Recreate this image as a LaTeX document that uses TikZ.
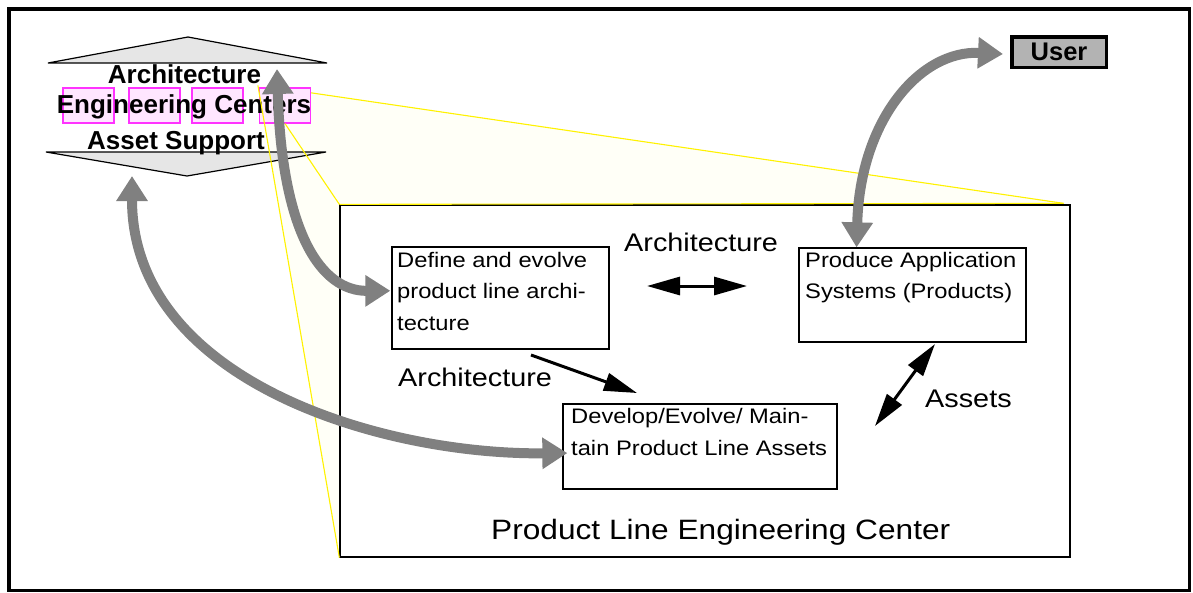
\documentclass[tikz,border=0pt]{standalone}
\usepackage{fontspec}
\setmainfont{Liberation Sans}
\newfontfamily\widefont[FakeStretch=1.13]{Liberation Sans}
\usetikzlibrary{arrows.meta,calc}
\definecolor{grayarrow}{HTML}{808080}
\definecolor{hdrgray}{HTML}{E6E6E6}
\definecolor{pinkfill}{HTML}{FFE6FF}
\definecolor{pinkline}{HTML}{FF33FF}
\definecolor{userfill}{HTML}{B3B3B3}
\definecolor{zoomfill}{HTML}{FFFFF7}
\begin{document}
\begin{tikzpicture}[x=1pt,y=-1pt,
  graybend/.style={draw=grayarrow, line width=10pt,
     {Triangle[length=25pt,width=30pt]}-{Triangle[length=25pt,width=30pt]}},
  blackdbl/.style={draw=black, line width=3pt,
     {Triangle[length=33pt,width=18pt]}-{Triangle[length=33pt,width=18pt]}},
  blacksgl/.style={draw=black, line width=3pt, -{Triangle[length=33pt,width=18pt]}},
  pinkbox/.style={draw=pinkline, fill=pinkfill, line width=1.2pt, inner sep=0pt,
     minimum width=51pt, minimum height=35pt},
  procbox/.style={draw=black, line width=1.3pt, fill=white, inner sep=0pt},
  yline/.style={draw=yellow, line width=1.1pt},
  hdrtext/.style={font=\fontsize{26}{30}\selectfont\bfseries, anchor=base, inner sep=0pt},
  boxtext/.style={font=\widefont\fontsize{21}{31.5}\selectfont, anchor=base west, inner sep=0pt},
  labeltext/.style={font=\widefont\fontsize{25.5}{30}\selectfont, anchor=base west, inner sep=0pt},
  bigtext/.style={font=\widefont\fontsize{28}{33}\selectfont, anchor=base west, inner sep=0pt},
  userbox/.style={draw=black, fill=userfill, line width=3.5pt, inner sep=0pt,
     minimum width=94.5pt, minimum height=30.5pt, font=\fontsize{25.5}{30}\selectfont\bfseries}
]
\useasboundingbox (0,0) rectangle (1193,592);
% outer frame
\draw[line width=3.5pt] (9,9) rectangle (1189.5,590.5);

% pink boxes (nodes)
\node[pinkbox] (p1) at (88.5,105.5) {};
\node[pinkbox] (p2) at (154.5,105.5) {};
\node[pinkbox] (p3) at (217.5,105.5) {};
\node[pinkbox] (p4) at (285,105.5) {};

% big box
\node[procbox, fill=none, minimum width=730pt, minimum height=352pt] (plec) at (705,381) {};

% yellow zoom region
\coordinate (zA) at ($(p4.north west)+(-1,-2)$);
\coordinate (zB) at ($(p4.north east)!0.15!(p4.south east)$);
\coordinate (zF) at (p4.south);
\coordinate (zC) at ($(plec.north east)+(-7,-1)$);
\fill[zoomfill] (zA) -- (zB) -- (zC) -- (plec.north west) -- (plec.south west) -- cycle;

% header triangles
\filldraw[fill=hdrgray, draw=black, line width=1.2pt] (48,63) -- (188,37) -- (327,63) -- cycle;
\filldraw[fill=hdrgray, draw=black, line width=1.2pt] (46,152) -- (326,152) -- (187,176) -- cycle;

% pink boxes redrawn over fill
\node[pinkbox] at (p1) {};
\node[pinkbox] at (p2) {};
\node[pinkbox] at (p3) {};
\node[pinkbox] at (p4) {};

% header text
\node[hdrtext] (h1) at (184.5,83) {Architecture};
\node[hdrtext] (h2) at (184,113) {Engineering Centers};
\node[hdrtext] (h3) at (176,149) {Asset Support};

% big box border and yellow lines
\draw[line width=1.3pt] (plec.north west) rectangle (plec.south east);
\draw[yline] (zA) -- (plec.south west);
\draw[yline] (zB) -- (zC);
\draw[yline] (zF) -- (plec.north west);
\draw[yline] (plec.north west) -- (zC);

% process boxes
\node[procbox, minimum width=217pt, minimum height=102pt] (def) at (500.5,298) {};
\node[procbox, minimum width=227pt, minimum height=94pt] (prod) at (912.5,295) {};
\node[procbox, minimum width=274pt, minimum height=85pt] (dev) at (700,446.5) {};

% box texts
\node[boxtext] (d1) at (397,267) {Define and evolve};
\node[boxtext] (d2) at (397,298.5) {product line archi-};
\node[boxtext] (d3) at (397,330) {tecture};
\node[boxtext] (r1) at (805,267) {Produce Application};
\node[boxtext] (r2) at (805,298.5) {Systems (Products)};
\node[boxtext] (v1) at (571,423) {Develop/Evolve/ Main-};
\node[boxtext] (v2) at (571,455) {tain Product Line Assets};

% labels
\node[labeltext] (la1) at (624,251) {Architecture};
\node[labeltext] (la2) at (398,386) {Architecture};
\node[labeltext] (la3) at (925,407) {Assets};
\node[bigtext] (lbig) at (491,539) {Product Line Engineering Center};

% user box
\node[userbox] (user) at (1059,52) {User};

% black arrows
\coordinate (hL) at (647,286);
\coordinate (hR) at (747,286);
\draw[blackdbl] (hL) -- (hR);
\coordinate (aS) at (531,355);
\coordinate (aE) at (637,393);
\draw[blacksgl] (aS) -- (aE);
\coordinate (sL) at (875,426);
\coordinate (sU) at (935,344);
\draw[blackdbl] (sL) -- (sU);

% gray arrows
\coordinate (hdrA) at (277,69);
\coordinate (hdrB) at (132,176);
\coordinate (defpt) at ($(def.north west)!0.43!(def.south west)+(-1,0)$);
\coordinate (devpt) at ($(dev.north west)!0.576!(dev.south west)+(5,0)$);
\coordinate (prodpt) at ($(prod.north west)!0.255!(prod.north east)$);
\coordinate (userpt) at ($(user.west)+(-7,2)$);
\draw[graybend] (userpt) .. controls (920,50) and (860,120) .. (prodpt);
\draw[graybend] (hdrA) .. controls (282,235) and (322,291) .. (defpt);
\draw[graybend] (hdrB) .. controls (132,380) and (380,455) .. (devpt);
\end{tikzpicture}
\end{document}
